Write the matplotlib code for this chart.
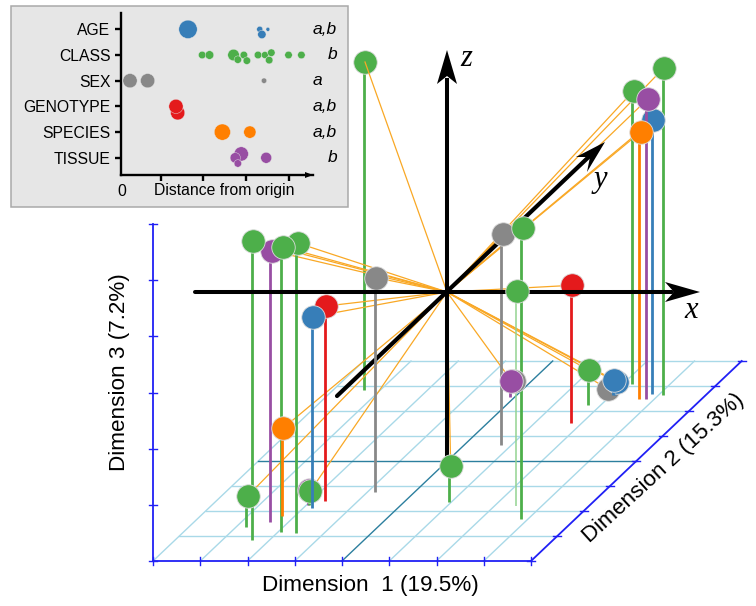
"""Sketch of the 3D dimension plot with the distance-from-origin inset."""

import matplotlib
matplotlib.use("Agg")
import matplotlib.pyplot as plt
from matplotlib.patches import Polygon, Rectangle

plt.rcParams["font.family"] = ["Liberation Sans", "DejaVu Sans"]

COLORS = {
    "AGE": "#377eb8",
    "CLASS": "#4daf4a",
    "SEX": "#888888",
    "GENOTYPE": "#e41a1c",
    "SPECIES": "#ff7f00",
    "TISSUE": "#984ea3",
}

# ── Inset data: one row per factor ─────────────────────────────────
factors = ["AGE", "CLASS", "SEX", "GENOTYPE", "SPECIES", "TISSUE"]
letters = ["a,b", "b", "a", "a,b", "a,b", "b"]

age_dist = [1.64, 3.31, 3.36, 3.50]
age_row = [0, 0, 0.2, 0]
age_size = [175, 19, 36, 8]

class_dist = [1.97, 2.14, 2.70, 2.80, 2.94, 3.01, 3.27, 3.43, 3.53, 3.58, 3.98, 4.28]
class_row = [1, 1, 1, 1.18, 1, 1.22, 1, 1, 1.2, 0.91, 1, 1]
class_size = [29, 38, 69, 29, 29, 29, 29, 25, 29, 29, 29, 29]

sex_dist = [0.29, 0.70, 3.41]
sex_row = [2, 2, 2]
sex_size = [105, 105, 15]

genotype_dist = [1.40, 1.36]
genotype_row = [3.25, 3]
genotype_size = [105, 105]

species_dist = [2.44, 3.08]
species_row = [4, 4]
species_size = [136, 78]

tissue_dist = [2.88, 2.74, 2.80, 3.46]
tissue_row = [4.85, 5, 5.22, 5]
tissue_size = [105, 55, 29, 62]

inset_groups = [
    ("AGE", age_dist, age_row, age_size),
    ("CLASS", class_dist, class_row, class_size),
    ("SEX", sex_dist, sex_row, sex_size),
    ("GENOTYPE", genotype_dist, genotype_row, genotype_size),
    ("SPECIES", species_dist, species_row, species_size),
    ("TISSUE", tissue_dist, tissue_row, tissue_size),
]

# ── Main plot points, in drawing order ─────────────────────────────
point_group = ["CLASS", "CLASS", "TISSUE", "CLASS", "CLASS", "SPECIES", "CLASS", "TISSUE", "CLASS",
               "GENOTYPE", "AGE", "SEX", "SEX", "CLASS", "CLASS", "CLASS", "AGE", "TISSUE", "SPECIES",
               "GENOTYPE", "SEX", "AGE", "AGE", "CLASS", "CLASS", "CLASS", "SEX", "TISSUE"]
point_x = [365, 297.7, 271.7, 253, 282.7, 283.3, 247.7, 309, 310.3,
           326.3, 313, 376, 502.7, 522.7, 664, 633.7, 653.3, 647.7, 640.7,
           572.3, 608.3, 616.7, 614.3, 589.3, 450.7, 517.3, 514, 511.3]
point_y = [62, 243, 250.7, 241, 246.7, 428, 496, 490, 491,
           306, 316.7, 277.7, 234, 228, 67.7, 90.7, 120, 99, 132,
           285.3, 389.3, 382.3, 380, 370.3, 466.3, 291, 381, 380.7]
point_base = [390, 533, 522, 540, 532, 516, 527, 505, 505,
              500.7, 508, 492, 444.7, 519.3, 394.7, 383.7, 393.7, 399, 398.7,
              422.7, 400, 395, 395, 405.3, 501.7, 505.7, 390, 396.7]

# drawing layers: the first point sits under the y axis, the later ones
# go under or over the x axis
UNDER_Y_AXIS = 1
UNDER_X_AXIS = 24
FAINT_STEM = 25
NO_CONNECTOR = [7, 26]  # dots hidden right behind another one

# ── Floor grid and axis ticks ──────────────────────────────────────
x_ticks = [153, 200.3, 247.5, 294.8, 342, 389.3, 436.5, 483.8, 531]
depth_ticks_y = [561, 536, 511, 486, 461, 436, 411, 386, 361]
depth_shift_x = [0, 26.3, 52.7, 79, 105.3, 131.7, 158, 184.4, 210.7]
z_ticks = [223.7, 280, 336.3, 392.7, 449, 505, 561]
MID_X_TICK = 4
MID_DEPTH_TICK = 4

ORIGIN = (447, 292)
GRID = "#a9d9e8"
GRID_DARK = "#2c7f9e"
AXIS_BLUE = "#2020f5"
ORANGE = "#f9a825"

fig = plt.figure(figsize=(7.56, 6.06), dpi=100)
ax = fig.add_axes([0, 0, 1, 1])
ax.set_xlim(0, 756)
ax.set_ylim(606, 0)
ax.axis("off")

# ── Floor ──────────────────────────────────────────────────────────
for i, (y, shift) in enumerate(zip(depth_ticks_y, depth_shift_x)):
    if i > 0:
        c = GRID_DARK if i == MID_DEPTH_TICK else GRID
        ax.plot([x_ticks[0] + shift, x_ticks[-1] + shift], [y, y], color=c, lw=1.0, zorder=1 + (i == MID_DEPTH_TICK))
    ax.plot([x_ticks[-1] + shift - 4, x_ticks[-1] + shift + 4], [y, y], color=AXIS_BLUE, lw=1.0, zorder=3)
for i, x in enumerate(x_ticks[:-1]):
    c = GRID_DARK if i == MID_X_TICK else GRID
    ax.plot([x, x + depth_shift_x[-1]], [depth_ticks_y[0], depth_ticks_y[-1]], color=c, lw=1.0, zorder=1 + (i == MID_X_TICK))

# ── Blue box axes ──────────────────────────────────────────────────
ax.plot([x_ticks[0], x_ticks[-1]], [depth_ticks_y[0]] * 2, color=AXIS_BLUE, lw=1.3, zorder=3)
ax.plot([x_ticks[-1], x_ticks[-1] + depth_shift_x[-1]], [depth_ticks_y[0], depth_ticks_y[-1]], color=AXIS_BLUE, lw=1.3, zorder=3)
ax.plot([x_ticks[0], x_ticks[0]], [z_ticks[0], z_ticks[-1]], color=AXIS_BLUE, lw=1.3, zorder=3)
for x in x_ticks:
    ax.plot([x, x], [depth_ticks_y[0] - 4, depth_ticks_y[0] + 4], color=AXIS_BLUE, lw=1.0, zorder=3)
for y in z_ticks:
    ax.plot([x_ticks[0] - 4, x_ticks[0] + 4], [y, y], color=AXIS_BLUE, lw=1.0, zorder=3)


def draw_point(i, z):
    c = COLORS[point_group[i]]
    stem_x = point_x[i] - 1.3
    if i == FAINT_STEM:
        ax.plot([stem_x, stem_x], [point_y[i], point_base[i]], color="#93d391", lw=1.1, zorder=z, solid_capstyle="butt")
    else:
        ax.plot([stem_x, stem_x], [point_y[i], point_base[i]], color=c, lw=2.0, zorder=z, solid_capstyle="butt")
    ax.scatter([point_x[i]], [point_y[i]], s=286, color=c, edgecolors="#dcdcdc", linewidths=0.6, zorder=z + 0.5)


z = 10
for i in range(UNDER_Y_AXIS):
    draw_point(i, z)
    z += 1

# ── Connectors, black y axis, z axis ───────────────────────────────
for i, (px, py) in enumerate(zip(point_x, point_y)):
    if i not in NO_CONNECTOR:
        ax.plot([ORIGIN[0], px], [ORIGIN[1], py], color=ORANGE, lw=0.9, zorder=z)
z += 1
ax.plot([337, 596], [396, 150], color="black", lw=3.0, solid_capstyle="round", zorder=z)
ax.add_patch(Polygon([(605, 142), (587, 172), (590, 157), (576, 157)], color="black", lw=0, zorder=z))
z += 1
ax.plot([447, 447], [78, 466], color="black", lw=2.9, solid_capstyle="butt", zorder=z)
ax.add_patch(Polygon([(447, 50), (457, 84), (447, 76), (437, 84)], color="black", lw=0, zorder=z))
z += 1

for i in range(UNDER_Y_AXIS, UNDER_X_AXIS):
    draw_point(i, z)
    z += 1

ax.plot([195, 672], [292, 292], color="black", lw=2.9, solid_capstyle="round", zorder=z)
ax.add_patch(Polygon([(700, 292), (665, 302), (674, 292), (665, 282)], color="black", lw=0, zorder=z))
z += 1

for i in range(UNDER_X_AXIS, len(point_x)):
    draw_point(i, z)
    z += 1

# ── Axis letters and titles ────────────────────────────────────────
for s, lx, ly in [("x", 691, 311), ("y", 600, 180), ("z", 466, 59)]:
    ax.text(lx, ly, s, family="Liberation Serif", style="italic", fontsize=22, ha="center", va="center", zorder=z)

ax.text(370, 585, "Dimension  1 (19.5%)", fontsize=16.2, ha="center", va="center", zorder=z)
ax.text(119, 372, "Dimension 3 (7.2%)", fontsize=16.2, rotation=90, ha="center", va="center", zorder=z)
ax.text(664, 468, "Dimension 2 (15.3%)", fontsize=16.2, rotation=42.5, rotation_mode="anchor", ha="center", va="center", zorder=z)

# ── Inset panel ────────────────────────────────────────────────────
ax.add_patch(Rectangle((10.5, 5.5), 337, 201, facecolor="#e6e6e6", edgecolor="#a9a9a9", lw=1.1, zorder=z))

inset = fig.add_axes([121 / 756, (606 - 175) / 606, 192 / 756, 162 / 606])
inset.patch.set_alpha(0)
inset.set_xlim(0.08, 4.55)
inset.set_ylim(5.67, -0.635)
for side in ["top", "right"]:
    inset.spines[side].set_visible(False)
for side in ["left", "bottom"]:
    inset.spines[side].set_linewidth(1.7)
inset.set_yticks(range(len(factors)))
inset.set_yticklabels(factors, fontsize=11.3)
inset.set_xticks([1, 2, 3, 4])
inset.set_xticklabels([])
inset.tick_params(axis="both", width=1.7, length=4.5, pad=3)

for name, dist, row, size in inset_groups:
    inset.scatter(dist, row, s=size, color=COLORS[name], edgecolors="#e6e6e6", linewidths=0.3, zorder=3, clip_on=False)

for row, label in enumerate(letters):
    lx = 313 if "a" in label else 328
    ax.text(lx, 29.3 + 25.68 * row, label, style="italic", fontsize=12.5, ha="left", va="center", zorder=z + 1)

ax.add_patch(Polygon([(313, 175), (305, 172), (305, 178)], color="black", lw=0, zorder=z + 1))
ax.text(121.5, 191, "0", fontsize=11.3, ha="center", va="center", zorder=z + 1)
ax.text(224, 191, "Distance from origin", fontsize=11.3, ha="center", va="center", zorder=z + 1)
ax.set_zorder(0)
inset.set_zorder(1)

fig.savefig("out.png", dpi=100)
